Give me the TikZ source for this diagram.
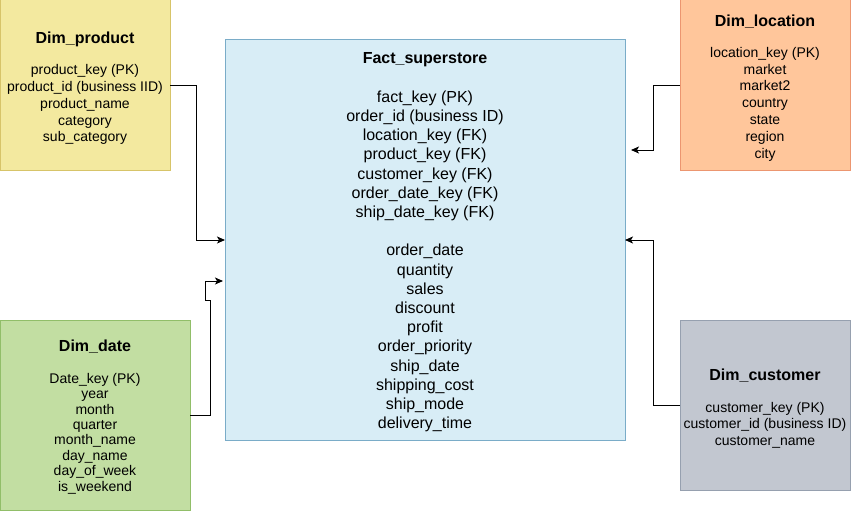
\documentclass[tikz,border=0pt]{standalone}
\usepackage{fontspec}
\setmainfont{Liberation Sans}
\usetikzlibrary{arrows.meta, positioning}

\definecolor{prodfill}{RGB}{243,233,159}
\definecolor{prodline}{RGB}{215,196,105}
\definecolor{factfill}{RGB}{216,237,246}
\definecolor{factline}{RGB}{122,172,200}
\definecolor{locfill}{RGB}{255,198,155}
\definecolor{locline}{RGB}{236,150,112}
\definecolor{datefill}{RGB}{194,222,162}
\definecolor{dateline}{RGB}{145,190,105}
\definecolor{custfill}{RGB}{194,199,208}
\definecolor{custline}{RGB}{150,160,175}

\newcommand{\tabhead}[1]{{\fontsize{16}{19.2}\selectfont\bfseries #1}}

\begin{document}
\begin{tikzpicture}[
        x=1pt, y=-1pt,
        dimtable/.style={rectangle, line width=1pt, minimum width=170pt, minimum height=170pt, inner sep=0pt, outer sep=0pt},
        facttable/.style={dimtable, fill=factfill, draw=factline, minimum width=400pt, minimum height=400pt},
        fields/.style={inner sep=0pt, align=center, font=\fontsize{14}{16.8}\selectfont},
        arrow/.style={-{Stealth[length=8pt, width=7pt, inset=2pt]}, line width=1pt}
    ]
    \useasboundingbox (0,0) rectangle (851,511);

    % tables
    \node (fact) [facttable] at (425,240) {};
    \node (prod) [dimtable, fill=prodfill, draw=prodline] at (85,85) {};
    \node (loc) [dimtable, fill=locfill, draw=locline] at (765,85) {};
    \node (date) [dimtable, fill=datefill, draw=dateline, minimum width=190pt, minimum height=190pt] at (95,415) {};
    \node (cust) [dimtable, fill=custfill, draw=custline] at (765,405) {};

    % columns
    \node (facttxt) [fields, font=\fontsize{16}{19.2}\selectfont] at ([yshift=-2.5pt]fact.center) {\tabhead{Fact\_superstore}\\[19.2pt]
        fact\_key (PK)\\ order\_id (business ID)\\ location\_key (FK)\\ product\_key (FK)\\
        customer\_key (FK)\\ order\_date\_key (FK)\\ ship\_date\_key (FK)\\[19.2pt]
        order\_date\\ quantity\\ sales\\ discount\\ profit\\ order\_priority\\
        ship\_date\\ shipping\_cost\\ ship\_mode\\ delivery\_time};

    \node (prodtxt) [fields] at ([yshift=-3.5pt]prod.center) {\tabhead{Dim\_product}\\[14pt]
        product\_key (PK)\\ product\_id (business IID)\\ product\_name\\ category\\ sub\_category};

    \node (loctxt) [fields] at ([yshift=-3pt]loc.center) {\tabhead{Dim\_location}\\[14pt]
        location\_key (PK)\\ market\\ market2\\ country\\ state\\ region\\ city};

    \node (datetxt) [fields, font=\fontsize{14}{15.4}\selectfont] at ([yshift=-2pt]date.center) {\tabhead{Dim\_date}\\[16pt]
        Date\_key (PK)\\ year\\ month\\ quarter\\ month\_name\\ day\_name\\ day\_of\_week\\ is\_weekend};

    \node (custtxt) [fields] at ([yshift=-3.5pt]cust.center) {\tabhead{Dim\_customer}\\[15pt]
        customer\_key (PK)\\ customer\_id (business ID)\\ customer\_name};

    \coordinate (locend) at (631,150);
    \coordinate (dateend) at (223,281);

    % links
    \draw [arrow] (prod.east) -- ++(26,0) |- (fact.west);
    \draw [arrow] (loc.west) -- ++(-27,0) |- (locend);
    \draw [arrow] (date.east) -- ++(20,0) -- ++(0,-115) -- ++(-5,0) |- (dateend);
    \draw [arrow] (cust.west) -- ++(-27,0) |- (fact.east);

\end{tikzpicture}
\end{document}
